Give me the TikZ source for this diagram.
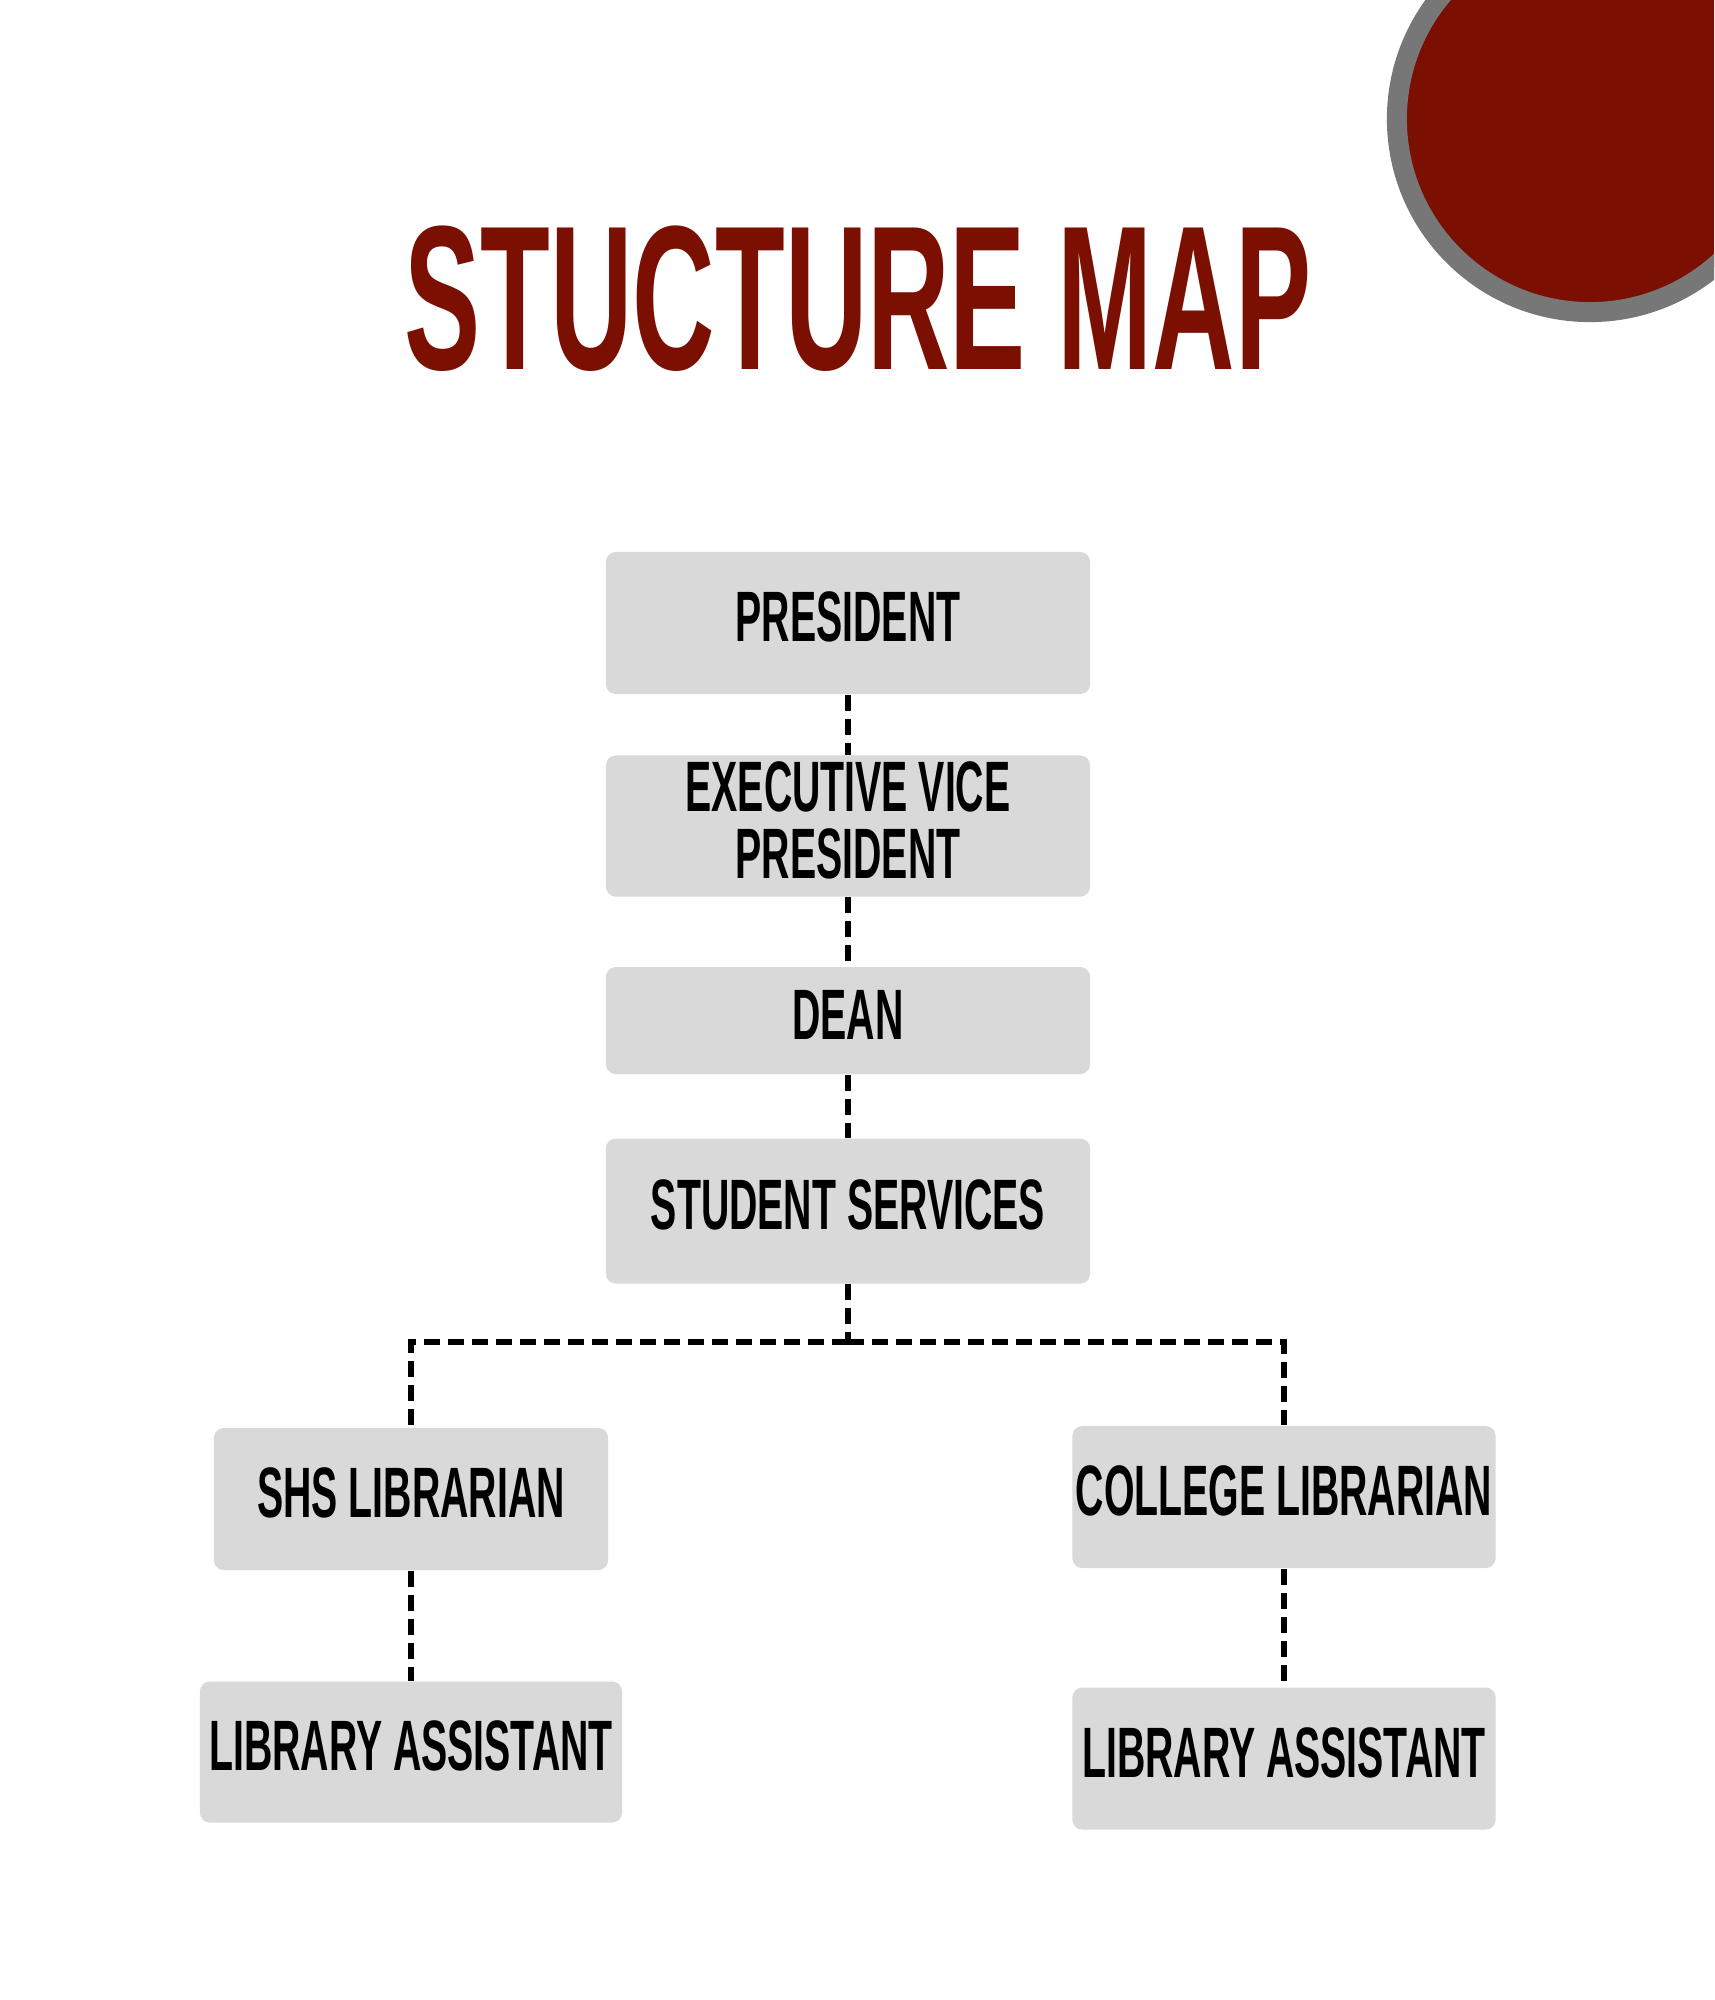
\documentclass[tikz,border=0pt]{standalone}
\usepackage{fontspec}
\usetikzlibrary{positioning}
\newfontfamily\bebas[FakeStretch=0.55]{Liberation Sans}
\newfontfamily\bebaswide[FakeStretch=0.555]{Liberation Sans}
\definecolor{maroon}{HTML}{7A0F02}
\definecolor{ringgray}{HTML}{777777}
\definecolor{boxgray}{HTML}{D9D9D9}
\begin{document}
\begin{tikzpicture}[x=0.01cm, y=-0.01cm,
    main/.style = {fill=boxgray, rounded corners=0.1cm, minimum width=4.84cm, minimum height=1.42cm,
      inner sep=0pt, text depth=0.12cm, align=center, font=\bebas\bfseries\fontsize{20.3pt}{19pt}\selectfont},
    link/.style = {draw=black, line width=0.055cm, dash pattern=on 0.16cm off 0.08cm}]
        \clip (0,0) rectangle (1714,2000);
        \fill[white] (0,0) rectangle (1714,2000);
        \fill[maroon, draw=ringgray, line width=0.2cm] (1590,119) circle[radius=1.93cm];
        \node[font=\bebaswide\bfseries\fontsize{58.5pt}{58.5pt}\selectfont, text=maroon, anchor=base] (title) at (858,369) {STUCTURE MAP};
        %
        \node[main] (0) at (848,623) {PRESIDENT};
        \node[main, minimum height=1.41cm] (1) [below=0.6cm of 0] {EXECUTIVE VICE\\PRESIDENT};
        \node[main, minimum height=1.07cm] (2) [below=0.69cm of 1] {DEAN};
        \node[main, minimum height=1.45cm] (3) [below=0.63cm of 2] {STUDENT SERVICES};
        \node[main, minimum width=3.94cm] (4) at (411,1499) {SHS LIBRARIAN};
        \node[main, minimum width=4.23cm] (5) at (1284,1497) {COLLEGE LIBRARIAN};
        \node[main, minimum width=4.22cm, minimum height=1.41cm] (6) [below=1.1cm of 4] {LIBRARY ASSISTANT};
        \node[main, minimum width=4.23cm] (7) [below=1.18cm of 5] {LIBRARY ASSISTANT};
        \coordinate (bus) at (848,1342);
        %
        \draw[link] (0) -- (1);
        \draw[link] (1) -- (2);
        \draw[link] (2) -- (3);
        \draw[link] (3) -- (bus);
        \draw[link] (bus) -| (4);
        \draw[link] (bus) -| (5);
        \draw[link] (4) -- (6);
        \draw[link] (5) -- (7);
      \end{tikzpicture}
\end{document}
